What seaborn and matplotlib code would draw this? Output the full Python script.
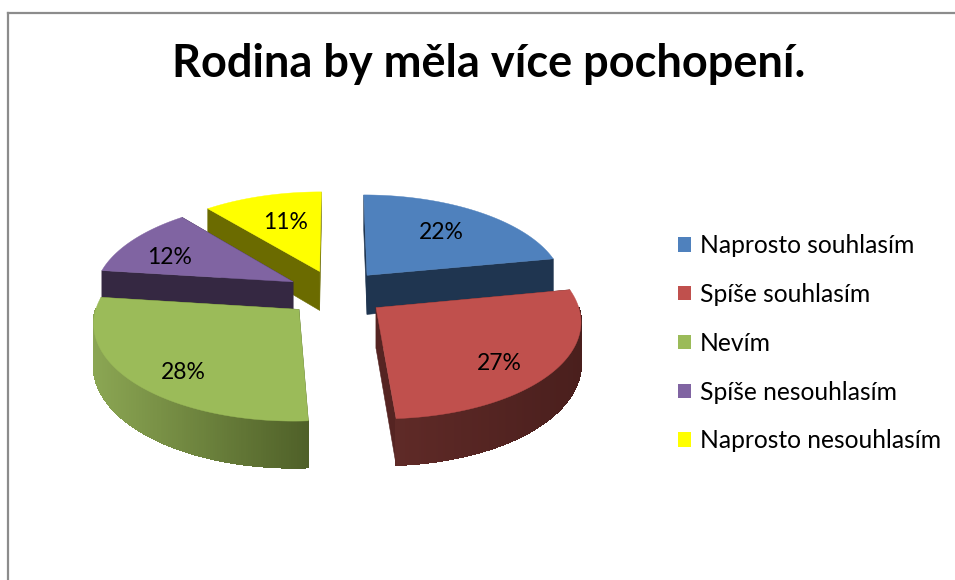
"""Exploded 3D-look pie chart: Rodina by měla více pochopení."""

from __future__ import annotations

import matplotlib

matplotlib.use("Agg")

import matplotlib.pyplot as plt
import numpy as np
import seaborn as sns
from matplotlib.colors import to_rgb
from matplotlib.patches import Patch

TITLE = "Rodina by měla více pochopení."
CATEGORIES = [
    "Naprosto souhlasím",
    "Spíše souhlasím",
    "Nevím",
    "Spíše nesouhlasím",
    "Naprosto nesouhlasím",
]
VALUES = [22, 27, 28, 12, 11]

TOP_COLORS = ["#4f81bd", "#c0504d", "#9bbb59", "#8064a2", "#ffff00"]
CUT_COLORS = ["#1f3550", "#552422", "#4f6228", "#352842", "#6b6b00"]
WALL_LEFT = ["#2a4a70", "#5f2a27", "#8ba653", "#4a3a60", "#8a8a00"]
WALL_RIGHT = ["#1f3550", "#4a1f1d", "#4f6028", "#352842", "#6b6b00"]

# projection of the disc onto the image, in pixels
CX, CY = 336, 293
RX, RY = 199, 94
PERSPECTIVE = 0.12
DEPTH = 40
EXPLODE = 0.25
LABEL_R = [0.6, 0.75, 0.75, 0.7, 0.62]
LABEL_SHIFT = [(5, -3), (-6, 8), (5, 9), (-9, 5), (3, 0)]
DRAW_ORDER = [4, 0, 3, 2, 1]


def project(u, v, z=0.0):
    s = 1 / (1 - PERSPECTIVE * np.asarray(v))
    return CX + RX * np.asarray(u) * s, CY + RY * np.asarray(v) * s + z * s


def draw_slice(ax, start, end, i):
    mid = (start + end) / 2
    off_u, off_v = EXPLODE * np.sin(mid), -EXPLODE * np.cos(mid)
    theta = np.linspace(start, end, 160)
    arc_u = off_u + np.sin(theta)
    arc_v = off_v - np.cos(theta)

    # cut faces, the one further back first
    for a in sorted([start, end], key=lambda a: -np.cos(a)):
        eu = np.array([off_u, off_u + np.sin(a)])
        ev = np.array([off_v, off_v - np.cos(a)])
        x0, y0 = project(eu, ev)
        x1, y1 = project(eu, ev, DEPTH)
        ax.fill(np.r_[x0, x1[::-1]], np.r_[y0, y1[::-1]], color=CUT_COLORS[i], lw=0.4, zorder=2)

    # outer wall, only the part that faces the viewer, shaded bit by bit
    x0, y0 = project(arc_u, arc_v)
    x1, y1 = project(arc_u, arc_v, DEPTH)
    left, right = np.array(to_rgb(WALL_LEFT[i])), np.array(to_rgb(WALL_RIGHT[i]))
    span = max(x0.max() - x0.min(), 1)
    for k in range(len(theta) - 1):
        if -np.cos(theta[k]) < 0:
            continue
        t = (x0[k] - x0.min()) / span
        ax.fill(
            [x0[k], x0[k + 1], x1[k + 1], x1[k]],
            [y0[k], y0[k + 1], y1[k + 1], y1[k]],
            color=tuple(left + (right - left) * t),
            lw=0.8,
            antialiased=False,
            zorder=2,
        )

    # top surface
    tx, ty = project(np.r_[off_u, arc_u], np.r_[off_v, arc_v])
    ax.fill(tx, ty, color=TOP_COLORS[i], lw=0.3, zorder=2)

    # percent label
    lx, ly = project(off_u + LABEL_R[i] * np.sin(mid), off_v - LABEL_R[i] * np.cos(mid))
    dx, dy = LABEL_SHIFT[i]
    ax.text(lx + dx, ly + dy, f"{VALUES[i]}%", ha="center", va="center", fontsize=16.5, color="black", zorder=3)


def main() -> None:
    sns.set_theme(style="white")
    plt.rcParams["font.family"] = ["Lato", "DejaVu Sans"]

    fig = plt.figure(figsize=(9.55, 5.8), dpi=100)
    ax = fig.add_axes([8 / 955, 0, 947 / 955, 567 / 580])
    ax.set_xlim(8, 955)
    ax.set_ylim(580, 13)
    ax.set_xticks([])
    ax.set_yticks([])
    for side in ["right", "bottom"]:
        ax.spines[side].set_visible(False)
    for side in ["left", "top"]:
        ax.spines[side].set_color("#8c8c8c")
        ax.spines[side].set_linewidth(1.6)

    angles = np.r_[0, np.cumsum(VALUES)] / np.sum(VALUES) * 2 * np.pi
    for i in DRAW_ORDER:
        draw_slice(ax, angles[i], angles[i + 1], i)

    ax.text(489, 64, TITLE, ha="center", va="center", fontsize=32.5, fontweight="bold", color="black")

    handles = [Patch(facecolor=c, edgecolor="none") for c in TOP_COLORS]
    ax.legend(
        handles,
        CATEGORIES,
        loc="upper left",
        bbox_to_anchor=(656, 212),
        bbox_transform=ax.transData,
        frameon=False,
        fontsize=17.7,
        labelspacing=1.05,
        handlelength=0.53,
        handleheight=0.53,
        handletextpad=0.37,
        labelcolor="black",
    )

    fig.savefig("out.png", dpi=100, facecolor="white")
    plt.close(fig)


if __name__ == "__main__":
    main()
